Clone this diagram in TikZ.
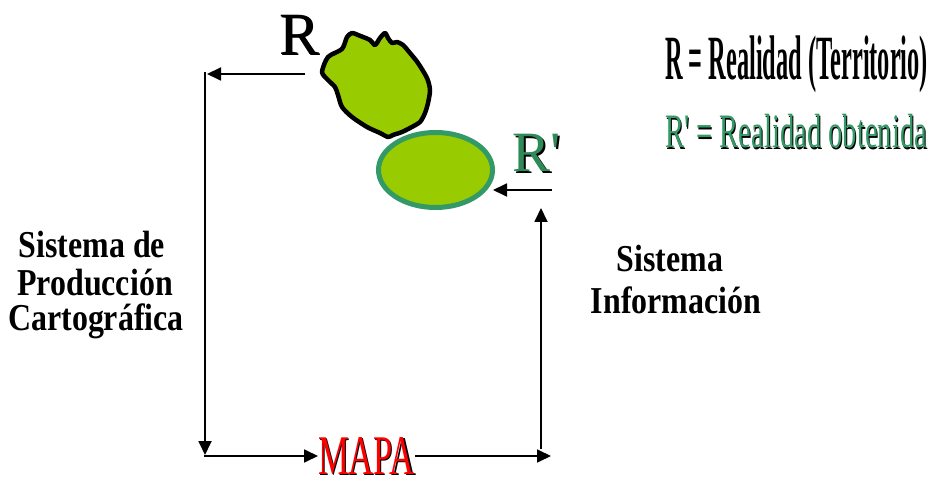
\documentclass[tikz,border=0pt]{standalone}
\usepackage{fontspec}
\usepackage{graphicx}
\setmainfont{Liberation Serif}
\newfontfamily\labfont[FakeStretch=0.84]{Liberation Serif}
\usetikzlibrary{arrows.meta,shapes.geometric}
\definecolor{leaf}{HTML}{99CC00}
\definecolor{sea}{HTML}{339966}
\definecolor{seatext}{HTML}{2E8B57}
% squeeze text horizontally to a given width, keeping its height
\newcommand{\squeeze}[2]{\resizebox{#1}{\height}{#2}}

\begin{document}
\begin{tikzpicture}[x=1pt,y=-1pt,
  flow/.style={line width=1.8pt,-{Triangle[length=14pt,width=13pt]}},
  lbl/.style={inner sep=0pt,outer sep=0pt,anchor=base},
  sysfont/.style={font=\labfont\bfseries\fontsize{38}{36}\selectfont},
]
\useasboundingbox (0,0) rectangle (934,478);

% territory blob R
\draw[line width=4.5pt,line join=round,fill=leaf]
  plot[smooth cycle,tension=0.45] coordinates {
   (322,72) (328,57) (342,49) (347,37) (352,33) (358,35) (370,40) (375,45)
   (380,38) (385,33) (388,38) (392,43) (397,42) (403,45) (410,53) (418,63)
   (427,78) (430,90) (428,103) (425,113) (420,122) (410,128) (402,132)
   (393,135) (388,137) (380,133) (367,127) (352,117) (342,107) (338,95)
   (335,87) (328,80)};

% obtained reality R'
\node[ellipse,draw=sea,line width=5pt,fill=leaf,minimum width=114pt,
      minimum height=75pt,inner sep=0pt] (Rp) at (435.5,170) {};

% labels at the figures
\node[lbl] (labRS) at (301,56) {\fontsize{60}{60}\selectfont R};
\node[lbl] (labR) at (300,55) {\fontsize{60}{60}\selectfont R};
\node[lbl,text=black] (labRpS) at (538.2,173.2) {\fontsize{57}{57}\selectfont R\textquotesingle};
\node[lbl,text=seatext] (labRp) at (537,172) {\fontsize{57}{57}\selectfont R\textquotesingle};

% legend
\node[lbl,anchor=base west] (leg1) at (665,80)
  {\fontsize{63}{63}\selectfont\bfseries\squeeze{263pt}{R = Realidad (Territorio)}};
\node[lbl,anchor=base west,text=black] (leg2S) at (666.1,149.1)
  {\fontsize{48}{48}\selectfont\squeeze{262pt}{R\textquotesingle{} = Realidad obtenida}};
\node[lbl,anchor=base west,text=sea] (leg2) at (665,148)
  {\fontsize{48}{48}\selectfont\squeeze{262pt}{R\textquotesingle{} = Realidad obtenida}};

% system names
\node[lbl,sysfont] (prod1) at (92,258) {Sistema de};
\node[lbl,sysfont] (prod2) at (95,295) {Producción};
\node[lbl,sysfont] (prod3) at (96,330) {Cartográfica};
\node[lbl,sysfont] (info1) at (670,272) {Sistema};
\node[lbl,sysfont] (info2) at (676,313) {Información};

% the map
\node[lbl,text=black] (mapaS) at (367.6,475.6)
  {\fontsize{56}{56}\selectfont\squeeze{97pt}{MAPA}};
\node[lbl,text=red] (mapa) at (366.5,474.5)
  {\fontsize{56}{56}\selectfont\squeeze{97pt}{MAPA}};

% connectors
\coordinate (tstart) at (305,74);
\coordinate (ttip) at (207,74);
\coordinate (ltop) at (205,72);
\coordinate (lbot) at (205,455);
\coordinate (bl) at (204,456);
\coordinate (br) at (551,456);
\coordinate (rb) at (541,449);
\coordinate (rt) at (541,208);
\coordinate (rin) at (552,190);
\coordinate (rtip) at (493,190);

\draw[flow] (tstart) -- (ttip);
\draw[flow] (ltop) -- (lbot);
\draw[flow] (bl) -- (bl -| mapa.west);
\draw[flow] (mapa.east |- br) -- (br);
\draw[flow] (rb) -- (rt);
\draw[flow] (rin) -- (rtip);
\end{tikzpicture}
\end{document}
